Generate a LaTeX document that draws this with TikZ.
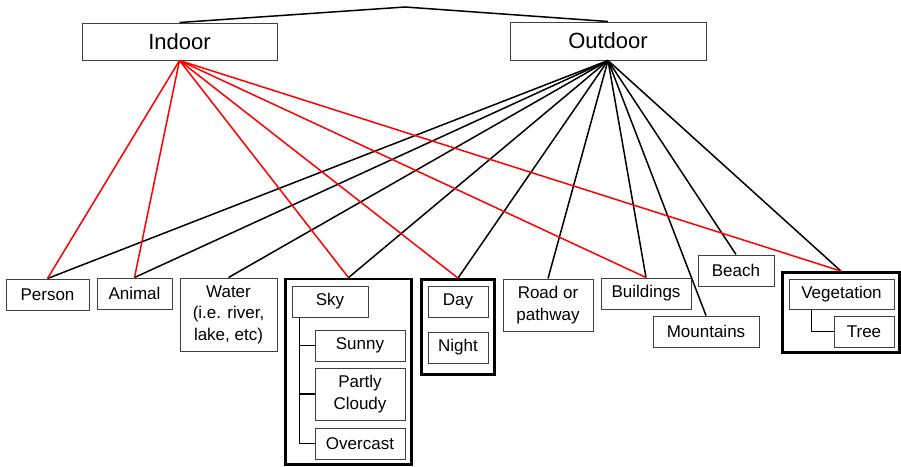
\documentclass[tikz,border=0pt]{standalone}
\usepackage{fontspec}
\setmainfont{Liberation Sans}
\usetikzlibrary{positioning, calc}

\begin{document}
\begin{tikzpicture}[
    x=1pt, y=-1pt,
    font=\fontsize{17pt}{21.5pt}\selectfont,
    box/.style={draw=black!75, line width=1pt, fill=white, align=center,
                inner sep=0pt},
    topbox/.style={box, font=\fontsize{22pt}{26pt}\selectfont},
    group/.style={draw=black, line width=2.8pt, inner sep=0pt},
    outlink/.style={line width=1.5pt, black},
    inlink/.style={line width=1.5pt, red},
    branch/.style={line width=1.8pt, black},
  ]
  \useasboundingbox (0,0) rectangle (901,466);
  % top level
  \node[topbox, minimum width=195pt, minimum height=37pt] (indoor) at (179.5,41.5) {Indoor};
  \node[topbox, minimum width=196pt, minimum height=38pt] (outdoor) at (608,41) {Outdoor};
  \coordinate (peak) at (405,7);
  \draw[outlink] (indoor.north) -- (peak) -- (outdoor.north);
  % categories
  \node[box, minimum width=83pt, minimum height=31pt] (person) at (47.5,294.5) {Person};
  \node[box, minimum width=75pt, minimum height=31pt] (animal) at (134.5,293.5) {Animal};
  \node[box, minimum width=97pt, minimum height=73pt] (water) at (228.5,314.5) {Water\\(i.e. river,\\lake, etc)};
  \node[group, minimum width=126pt, minimum height=185.5pt] (skygrp) at (348.5,371.75) {};
  \node[box, minimum width=76pt, minimum height=31pt] (sky) at (330,301.5) {Sky};
  \node[box, minimum width=90pt, minimum height=31pt] (sunny) at (360,345.5) {Sunny};
  \node[box, minimum width=90pt, minimum height=52pt] (cloudy) at (360,394) {Partly\\Cloudy};
  \node[box, minimum width=90pt, minimum height=31pt] (overcast) at (360,443.5) {Overcast};
  \node[group, minimum width=73pt, minimum height=95pt] (daygrp) at (458,327) {};
  \node[box, minimum width=60pt, minimum height=31pt] (day) at (458,301.5) {Day};
  \node[box, minimum width=60pt, minimum height=31pt] (night) at (458,347.5) {Night};
  \node[box, minimum width=90pt, minimum height=52pt] (road) at (548,305) {Road or\\pathway};
  \node[box, minimum width=90pt, minimum height=31pt] (build) at (646,293.5) {Buildings};
  \node[box, minimum width=106pt, minimum height=31pt] (mount) at (706,331.5) {Mountains};
  \node[box, minimum width=76pt, minimum height=31pt] (beach) at (736,270.5) {Beach};
  \node[group, minimum width=117pt, minimum height=80pt] (veggrp) at (841,312.5) {};
  \node[box, minimum width=105pt, minimum height=30pt] (veg) at (841.5,294) {Vegetation};
  \node[box, minimum width=60pt, minimum height=31pt] (tree) at (864,331.5) {Tree};
  % sub-trees
  \coordinate (skyroot) at ($(sky.south west)+(8,0)$);
  \draw[branch] (skyroot) |- (overcast.west);
  \draw[branch] (skyroot |- sunny.west) -- (sunny.west);
  \draw[branch] (skyroot |- cloudy.west) -- (cloudy.west);
  \coordinate (vegroot) at ($(veg.south west)+(23,0)$);
  \draw[branch] (vegroot) |- (tree.west);
  % outdoor links
  \draw[outlink] (outdoor.south) -- (person.north);
  \draw[outlink] (outdoor.south) -- (animal.north);
  \draw[outlink] (outdoor.south) -- (water.north);
  \draw[outlink] (outdoor.south) -- (skygrp.north);
  \draw[outlink] (outdoor.south) -- (daygrp.north);
  \draw[outlink] (outdoor.south) -- (road.north);
  \draw[outlink] (outdoor.south) -- (build.north);
  \draw[outlink] (outdoor.south) -- (mount.north);
  \draw[outlink] (outdoor.south) -- (beach.north);
  \draw[outlink] (outdoor.south) -- (veggrp.north);
  % indoor links
  \draw[inlink] (indoor.south) -- (person.north);
  \draw[inlink] (indoor.south) -- (animal.north);
  \draw[inlink] (indoor.south) -- (skygrp.north);
  \draw[inlink] (indoor.south) -- (daygrp.north);
  \draw[inlink] (indoor.south) -- (build.north);
  \draw[inlink] (indoor.south) -- (veggrp.north);
\end{tikzpicture}
\end{document}
